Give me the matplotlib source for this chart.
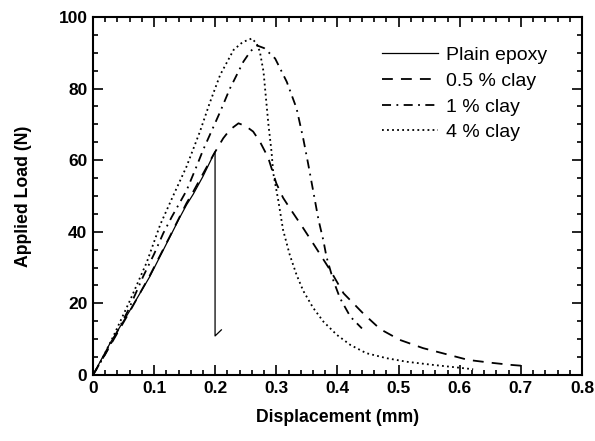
import numpy as np
import matplotlib
matplotlib.use("Agg")
import matplotlib.pyplot as plt
from matplotlib.ticker import MultipleLocator

plt.rcParams['font.family'] = ['Liberation Sans', 'DejaVu Sans']

# plain epoxy (sudden brittle drop)
d_plain = [0, 0.028, 0.061, 0.093, 0.126, 0.142, 0.153, 0.164, 0.18, 0.1997, 0.1997, 0.21]
L_plain = [0, 8.9, 18.2, 27.5, 38.6, 44, 47.5, 50.5, 55.5, 62.4, 10.9, 12.6]

# 0.5 % clay
d_05 = [0, 0.028, 0.061, 0.093, 0.126, 0.153, 0.164, 0.18, 0.197, 0.213, 0.224, 0.238,
        0.25, 0.262, 0.273, 0.2815, 0.287, 0.3, 0.311, 0.322, 0.344, 0.363, 0.388,
        0.41, 0.442, 0.47, 0.502, 0.54, 0.576, 0.614, 0.652, 0.685, 0.70]
L_05 = [0, 8.2, 18, 27.8, 38.8, 48, 51.2, 56.2, 61.5, 66.1, 68.5, 70.3,
        69.5, 68, 65.2, 62.4, 60.5, 53.5, 49.5, 46.6, 41, 36, 29.3,
        22.8, 17.2, 12.8, 9.8, 7.5, 5.9, 4.2, 3.4, 2.8, 2.6]

# 1 % clay
d_1 = [0, 0.02, 0.04, 0.058, 0.082, 0.1, 0.115, 0.129, 0.153, 0.17, 0.18, 0.191,
       0.208, 0.224, 0.246, 0.258, 0.269, 0.28, 0.298, 0.317, 0.333, 0.344, 0.348,
       0.352, 0.361, 0.369, 0.377, 0.382, 0.393, 0.404, 0.421, 0.44]
L_1 = [0, 5.8, 12.2, 18.2, 27.5, 33.8, 39.6, 44.2, 51.5, 58.5, 62.8, 67,
       73.5, 80, 87.5, 90.5, 92, 91.3, 88.4, 81.9, 74.5, 66, 62.5,
       59, 50.7, 43.3, 37.5, 33, 26.5, 21.5, 16.3, 13]

# 4 % clay
d_4 = [0, 0.015, 0.033, 0.061, 0.088, 0.11, 0.131, 0.153, 0.175, 0.191, 0.208, 0.23,
       0.245, 0.26, 0.268, 0.273, 0.279, 0.283, 0.287, 0.292, 0.295, 0.303, 0.311,
       0.322, 0.333, 0.344, 0.36, 0.377, 0.399, 0.421, 0.447, 0.48, 0.513, 0.557,
       0.59, 0.622]
L_4 = [0, 4.5, 10.7, 21, 31.5, 42, 50, 58.2, 68, 76, 83.8, 90.8,
       93, 94, 92.5, 90.3, 84.7, 77.3, 70, 62.5, 56.3, 48.9, 40.5,
       33.5, 28, 23.5, 18.8, 14.9, 11.2, 8.4, 6.1, 4.7, 3.7, 2.8,
       2.2, 1.6]

xtick_labels = ['0', '0.1', '0.2', '0.3', '0.4', '0.5', '0.6', '0.7', '0.8']

fig = plt.figure(figsize=(5.95, 4.41), dpi=100)
ax = fig.add_axes([0.1563, 0.1497, 0.8218, 0.8118])

ax.plot(d_plain, L_plain, color='black', lw=0.9, label='Plain epoxy')
ax.plot(d_05, L_05, color='black', lw=1.3, dashes=(6, 4.5), label='0.5 % clay')
ax.plot(d_1, L_1, color='black', lw=1.3, dashes=(5, 3, 1, 3), label='1 % clay')
ax.plot(d_4, L_4, color='black', lw=1.3, dashes=(1, 1.8), label='4 % clay')

ax.set_xlim(0, 0.8)
ax.set_ylim(0, 100)
ax.set_xticks(np.arange(0, 0.81, 0.1))
ax.set_xticklabels(xtick_labels)
ax.xaxis.set_minor_locator(MultipleLocator(0.02))
ax.yaxis.set_major_locator(MultipleLocator(20))
ax.yaxis.set_minor_locator(MultipleLocator(5))

ax.tick_params(which='both', direction='in', top=True, right=True, width=1.2)
ax.tick_params(which='major', length=7.5, labelsize=12.5, pad=4)
ax.tick_params(which='minor', length=3.6)
for lab in ax.get_xticklabels() + ax.get_yticklabels():
    lab.set_fontweight('bold')
for s in ax.spines.values():
    s.set_linewidth(1.5)

ax.set_xlabel('Displacement (mm)', fontsize=12.7, fontweight='bold', labelpad=10)
ax.set_ylabel('Applied Load (N)', fontsize=12.7, fontweight='bold', labelpad=19)

ax.legend(loc='upper left', bbox_to_anchor=(0.591, 0.918), frameon=False,
          borderaxespad=0, borderpad=0,
          fontsize=14, handlelength=2.9, handletextpad=0.4, labelspacing=0.42)

fig.savefig('out.png', dpi=100)
